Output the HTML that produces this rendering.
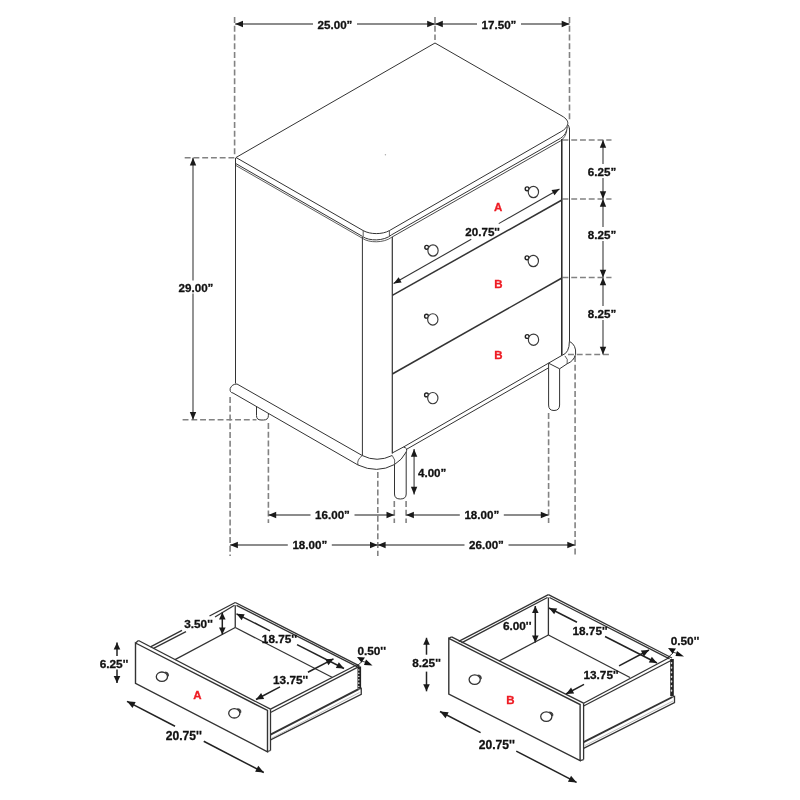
<!DOCTYPE html>
<html><head><meta charset="utf-8"><style>
html,body{margin:0;padding:0;background:#fff;}
svg{display:block;will-change:transform;}
text{font-family:"Liberation Sans",sans-serif;}
</style></head><body>
<svg width="800" height="800" viewBox="0 0 800 800" stroke-linecap="butt">
<rect width="800" height="800" fill="#fff"/>
<line x1="234.60" y1="17.00" x2="234.60" y2="157.00" stroke="#828282" stroke-width="1.6" stroke-dasharray="5.9,2.85"/>
<line x1="435.00" y1="17.00" x2="435.00" y2="40.00" stroke="#828282" stroke-width="1.6" stroke-dasharray="5.9,2.85"/>
<line x1="569.50" y1="17.00" x2="569.50" y2="122.00" stroke="#828282" stroke-width="1.6" stroke-dasharray="5.9,2.85"/>
<line x1="235.20" y1="24.00" x2="435.00" y2="24.00" stroke="#666" stroke-width="1.4" />
<polygon points="235.20,24.00 243.00,20.80 243.00,27.20" fill="#1a1a1a"/>
<polygon points="435.00,24.00 427.20,27.20 427.20,20.80" fill="#1a1a1a"/>
<line x1="435.00" y1="24.00" x2="569.50" y2="24.00" stroke="#666" stroke-width="1.4" />
<polygon points="435.00,24.00 442.80,20.80 442.80,27.20" fill="#1a1a1a"/>
<polygon points="569.50,24.00 561.70,27.20 561.70,20.80" fill="#1a1a1a"/>
<rect x="313.00" y="18.00" width="44" height="12" fill="#fff"/>
<text x="335.00" y="24.00" font-size="11.6" fill="#111" text-anchor="middle" dominant-baseline="central" font-weight="bold" stroke="#111" stroke-width="0.3">25.00&#8221;</text>
<rect x="477.00" y="18.00" width="44" height="12" fill="#fff"/>
<text x="499.00" y="24.00" font-size="11.6" fill="#111" text-anchor="middle" dominant-baseline="central" font-weight="bold" stroke="#111" stroke-width="0.3">17.50&#8221;</text>
<line x1="184.70" y1="157.70" x2="235.00" y2="157.70" stroke="#828282" stroke-width="1.6" stroke-dasharray="5.9,2.85"/>
<line x1="182.60" y1="419.80" x2="256.50" y2="419.80" stroke="#828282" stroke-width="1.6" stroke-dasharray="5.9,2.85"/>
<line x1="193.00" y1="157.80" x2="193.00" y2="419.80" stroke="#666" stroke-width="1.4" />
<polygon points="193.00,157.80 196.20,165.60 189.80,165.60" fill="#1a1a1a"/>
<polygon points="193.00,419.80 189.80,412.00 196.20,412.00" fill="#1a1a1a"/>
<rect x="176.00" y="280.50" width="40" height="13" fill="#fff"/>
<text x="196.00" y="287.00" font-size="11.6" fill="#111" text-anchor="middle" dominant-baseline="central" font-weight="bold" stroke="#111" stroke-width="0.3">29.00&#8221;</text>
<line x1="562.50" y1="140.00" x2="611.50" y2="140.00" stroke="#828282" stroke-width="1.6" stroke-dasharray="5.9,2.85"/>
<line x1="562.50" y1="199.00" x2="611.50" y2="199.00" stroke="#828282" stroke-width="1.6" stroke-dasharray="5.9,2.85"/>
<line x1="562.50" y1="277.50" x2="611.50" y2="277.50" stroke="#828282" stroke-width="1.6" stroke-dasharray="5.9,2.85"/>
<line x1="568.00" y1="354.50" x2="611.50" y2="354.50" stroke="#828282" stroke-width="1.6" stroke-dasharray="5.9,2.85"/>
<line x1="603.00" y1="140.00" x2="603.00" y2="199.00" stroke="#666" stroke-width="1.4" />
<polygon points="603.00,140.00 606.20,147.80 599.80,147.80" fill="#1a1a1a"/>
<polygon points="603.00,199.00 599.80,191.20 606.20,191.20" fill="#1a1a1a"/>
<line x1="603.00" y1="199.00" x2="603.00" y2="277.50" stroke="#666" stroke-width="1.4" />
<polygon points="603.00,199.00 606.20,206.80 599.80,206.80" fill="#1a1a1a"/>
<polygon points="603.00,277.50 599.80,269.70 606.20,269.70" fill="#1a1a1a"/>
<line x1="603.00" y1="277.50" x2="603.00" y2="354.50" stroke="#666" stroke-width="1.4" />
<polygon points="603.00,277.50 606.20,285.30 599.80,285.30" fill="#1a1a1a"/>
<polygon points="603.00,354.50 599.80,346.70 606.20,346.70" fill="#1a1a1a"/>
<rect x="584.00" y="164.00" width="36" height="14" fill="#fff"/>
<text x="602.00" y="171.00" font-size="11.6" fill="#111" text-anchor="middle" dominant-baseline="central" font-weight="bold" stroke="#111" stroke-width="0.3">6.25&#8221;</text>
<rect x="584.00" y="227.00" width="36" height="14" fill="#fff"/>
<text x="602.00" y="234.00" font-size="11.6" fill="#111" text-anchor="middle" dominant-baseline="central" font-weight="bold" stroke="#111" stroke-width="0.3">8.25&#8221;</text>
<rect x="584.00" y="306.00" width="36" height="14" fill="#fff"/>
<text x="602.00" y="313.00" font-size="11.6" fill="#111" text-anchor="middle" dominant-baseline="central" font-weight="bold" stroke="#111" stroke-width="0.3">8.25&#8221;</text>
<line x1="230.10" y1="397.00" x2="230.10" y2="556.00" stroke="#828282" stroke-width="1.6" stroke-dasharray="5.9,2.85"/>
<line x1="268.40" y1="423.00" x2="268.40" y2="523.00" stroke="#828282" stroke-width="1.6" stroke-dasharray="5.9,2.85"/>
<line x1="377.80" y1="472.00" x2="377.80" y2="556.00" stroke="#828282" stroke-width="1.6" stroke-dasharray="5.9,2.85"/>
<line x1="394.30" y1="501.00" x2="394.30" y2="523.00" stroke="#828282" stroke-width="1.6" stroke-dasharray="5.9,2.85"/>
<line x1="406.10" y1="501.00" x2="406.10" y2="523.00" stroke="#828282" stroke-width="1.6" stroke-dasharray="5.9,2.85"/>
<line x1="548.60" y1="413.00" x2="548.60" y2="523.00" stroke="#828282" stroke-width="1.6" stroke-dasharray="5.9,2.85"/>
<line x1="575.10" y1="356.00" x2="575.10" y2="556.00" stroke="#828282" stroke-width="1.6" stroke-dasharray="5.9,2.85"/>
<line x1="268.40" y1="515.00" x2="394.30" y2="515.00" stroke="#666" stroke-width="1.4" />
<polygon points="268.40,515.00 276.20,511.80 276.20,518.20" fill="#1a1a1a"/>
<polygon points="394.30,515.00 386.50,518.20 386.50,511.80" fill="#1a1a1a"/>
<line x1="406.10" y1="515.00" x2="548.60" y2="515.00" stroke="#666" stroke-width="1.4" />
<polygon points="406.10,515.00 413.90,511.80 413.90,518.20" fill="#1a1a1a"/>
<polygon points="548.60,515.00 540.80,518.20 540.80,511.80" fill="#1a1a1a"/>
<line x1="230.10" y1="545.00" x2="377.80" y2="545.00" stroke="#666" stroke-width="1.4" />
<polygon points="230.10,545.00 237.90,541.80 237.90,548.20" fill="#1a1a1a"/>
<polygon points="377.80,545.00 370.00,548.20 370.00,541.80" fill="#1a1a1a"/>
<line x1="377.80" y1="545.00" x2="575.10" y2="545.00" stroke="#666" stroke-width="1.4" />
<polygon points="377.80,545.00 385.60,541.80 385.60,548.20" fill="#1a1a1a"/>
<polygon points="575.10,545.00 567.30,548.20 567.30,541.80" fill="#1a1a1a"/>
<rect x="310.50" y="508.20" width="44" height="12" fill="#fff"/>
<text x="332.50" y="514.20" font-size="11.6" fill="#111" text-anchor="middle" dominant-baseline="central" font-weight="bold" stroke="#111" stroke-width="0.3">16.00&#8221;</text>
<rect x="459.80" y="508.20" width="44" height="12" fill="#fff"/>
<text x="481.80" y="514.20" font-size="11.6" fill="#111" text-anchor="middle" dominant-baseline="central" font-weight="bold" stroke="#111" stroke-width="0.3">18.00&#8221;</text>
<rect x="287.80" y="538.50" width="44" height="12" fill="#fff"/>
<text x="309.80" y="544.50" font-size="11.6" fill="#111" text-anchor="middle" dominant-baseline="central" font-weight="bold" stroke="#111" stroke-width="0.3">18.00&#8221;</text>
<rect x="464.50" y="538.50" width="44" height="12" fill="#fff"/>
<text x="486.50" y="544.50" font-size="11.6" fill="#111" text-anchor="middle" dominant-baseline="central" font-weight="bold" stroke="#111" stroke-width="0.3">26.00&#8221;</text>
<line x1="414.10" y1="449.00" x2="414.10" y2="494.50" stroke="#666" stroke-width="1.4" />
<polygon points="414.10,449.00 417.30,456.80 410.90,456.80" fill="#1a1a1a"/>
<polygon points="414.10,494.50 410.90,486.70 417.30,486.70" fill="#1a1a1a"/>
<text x="418.00" y="472.60" font-size="11.6" fill="#111" text-anchor="start" dominant-baseline="central" font-weight="bold" stroke="#111" stroke-width="0.3">4.00&#8221;</text>
<path d="M236,157.5 L435,43 L562,116 C566.5,118.6 568.5,121.5 567.6,124.5 C566.8,127.5 564.5,129.8 561.25,131.5 L389.4,230.6 C382.4,234.6 370.2,234.6 363.2,230.6 Z" stroke="#333" stroke-width="1.0" fill="none"/>
<line x1="235.50" y1="157.80" x2="235.50" y2="165.00" stroke="#333" stroke-width="1.0" />
<line x1="235.50" y1="163.40" x2="362.30" y2="236.30" stroke="#333" stroke-width="1.0" />
<line x1="235.50" y1="165.30" x2="362.30" y2="238.20" stroke="#333" stroke-width="0.8" />
<line x1="363.20" y1="230.60" x2="363.20" y2="236.30" stroke="#333" stroke-width="0.8" />
<line x1="389.40" y1="230.60" x2="389.40" y2="236.30" stroke="#333" stroke-width="0.8" />
<path d="M362.4,236.4 C369,241.3 384,241.3 391.6,234.8" stroke="#333" stroke-width="1.0" fill="none"/>
<path d="M362.4,238.3 C369,243.1 384,243.1 391.6,237.3" stroke="#333" stroke-width="0.8" fill="none"/>
<line x1="391.60" y1="234.80" x2="560.50" y2="138.30" stroke="#333" stroke-width="1.0" />
<line x1="391.60" y1="237.30" x2="560.50" y2="140.90" stroke="#333" stroke-width="0.9" />
<path d="M567.6,124.5 C569.6,126.5 569.6,129.5 569.5,133" stroke="#333" stroke-width="1.0" fill="none"/>
<path d="M567.4,126.5 C567,131.5 564.5,136 560.5,138.3" stroke="#333" stroke-width="0.9" fill="none"/>
<path d="M566.8,130.5 C566,135 564,138.5 560.5,140.9" stroke="#333" stroke-width="0.8" fill="none"/>
<line x1="235.50" y1="165.00" x2="235.50" y2="383.50" stroke="#333" stroke-width="1.0" />
<line x1="362.40" y1="237.00" x2="362.40" y2="455.50" stroke="#333" stroke-width="1.0" />
<line x1="392.30" y1="237.00" x2="392.30" y2="453.50" stroke="#333" stroke-width="1.2" />
<line x1="561.80" y1="139.00" x2="561.80" y2="355.30" stroke="#222" stroke-width="1.5" />
<line x1="569.50" y1="128.00" x2="569.50" y2="341.30" stroke="#333" stroke-width="1.0" />
<line x1="392.30" y1="295.40" x2="561.90" y2="200.00" stroke="#333" stroke-width="1.5" />
<line x1="392.30" y1="374.00" x2="561.90" y2="278.00" stroke="#333" stroke-width="1.5" />
<path d="M237,384 Q232,384 230.2,388.5 Q229.5,392.5 233,393 L358,465" stroke="#333" stroke-width="1.0" fill="none"/>
<line x1="237.00" y1="384.00" x2="362.20" y2="455.50" stroke="#333" stroke-width="1.0" />
<path d="M362.2,455.5 Q377,463 392.2,455.5" stroke="#333" stroke-width="1.0" fill="none"/>
<path d="M362.2,455.5 Q356.5,460 358,465" stroke="#333" stroke-width="0.8" fill="none"/>
<path d="M358,465 Q377,474 394.5,464.5" stroke="#333" stroke-width="1.0" fill="none"/>
<path d="M392.2,455.5 Q396,460 394.5,464.5" stroke="#333" stroke-width="0.8" fill="none"/>
<path d="M392.2,453 L403.5,447 Q408,448 406.2,452 Q402,460 394.5,464.5" stroke="#333" stroke-width="1.0" fill="none"/>
<line x1="403.50" y1="447.00" x2="562.10" y2="355.30" stroke="#333" stroke-width="1.0" />
<line x1="406.20" y1="449.50" x2="548.60" y2="367.80" stroke="#333" stroke-width="1.0" />
<path d="M562.1,355.3 Q569.4,353 569.4,341.3" stroke="#333" stroke-width="1.0" fill="none"/>
<path d="M569.4,341.3 Q576.5,345 575.6,354.2 Q574,361 567.1,363.8 L559.6,368.8" stroke="#333" stroke-width="1.0" fill="none"/>
<path d="M564.9,355.9 Q568.5,359 567.1,363.8" stroke="#333" stroke-width="0.8" fill="none"/>
<path d="M256.5,406.4 L256.5,415.5 Q256.5,420 261,420 L263.5,420 Q268.4,420 268.4,415.5 L268.4,413.3" stroke="#333" stroke-width="1.0" fill="none"/>
<path d="M394.5,464.5 L394.5,494 Q394.5,499 400.3,499 Q406.2,499 406.2,494 L406.2,452" stroke="#333" stroke-width="1.0" fill="none"/>
<path d="M548.6,363.2 L548.6,405 Q548.6,410.5 554,410.5 Q559.6,410.5 559.6,405 L559.6,368.8 Z" stroke="#333" stroke-width="1.0" fill="none"/>
<circle cx="527.1" cy="188.8" r="1.9" fill="#fff" stroke="#222" stroke-width="1.4"/>
<ellipse cx="533.4" cy="192" rx="5.15" ry="5.65" fill="#fff" stroke="#3a3a3a" stroke-width="1.15"/>
<circle cx="426.7" cy="247.3" r="1.9" fill="#fff" stroke="#222" stroke-width="1.4"/>
<ellipse cx="433" cy="250.5" rx="5.15" ry="5.65" fill="#fff" stroke="#3a3a3a" stroke-width="1.15"/>
<circle cx="527.0" cy="257.8" r="1.9" fill="#fff" stroke="#222" stroke-width="1.4"/>
<ellipse cx="533.3" cy="261" rx="5.15" ry="5.65" fill="#fff" stroke="#3a3a3a" stroke-width="1.15"/>
<circle cx="426.5" cy="316.2" r="1.9" fill="#fff" stroke="#222" stroke-width="1.4"/>
<ellipse cx="432.8" cy="319.4" rx="5.15" ry="5.65" fill="#fff" stroke="#3a3a3a" stroke-width="1.15"/>
<circle cx="527.2" cy="336.5" r="1.9" fill="#fff" stroke="#222" stroke-width="1.4"/>
<ellipse cx="533.5" cy="339.7" rx="5.15" ry="5.65" fill="#fff" stroke="#3a3a3a" stroke-width="1.15"/>
<circle cx="426.5" cy="394.90000000000003" r="1.9" fill="#fff" stroke="#222" stroke-width="1.4"/>
<ellipse cx="432.8" cy="398.1" rx="5.15" ry="5.65" fill="#fff" stroke="#3a3a3a" stroke-width="1.15"/>
<text x="498.20" y="206.60" font-size="11.5" fill="#ee1c24" text-anchor="middle" dominant-baseline="central" font-weight="bold" stroke="#ee1c24" stroke-width="0.3">A</text>
<text x="498.40" y="284.20" font-size="11.5" fill="#ee1c24" text-anchor="middle" dominant-baseline="central" font-weight="bold" stroke="#ee1c24" stroke-width="0.3">B</text>
<text x="498.40" y="355.20" font-size="11.5" fill="#ee1c24" text-anchor="middle" dominant-baseline="central" font-weight="bold" stroke="#ee1c24" stroke-width="0.3">B</text>
<circle cx="385.4" cy="154.8" r="0.7" fill="#aaa"/>
<line x1="393.60" y1="283.60" x2="471.25" y2="239.32" stroke="#333" stroke-width="1.1" />
<line x1="498.75" y1="223.64" x2="559.50" y2="189.00" stroke="#333" stroke-width="1.1" />
<polygon points="393.60,283.60 398.63,277.28 401.60,282.49" fill="#1a1a1a"/>
<polygon points="559.50,189.00 554.47,195.32 551.50,190.11" fill="#1a1a1a"/>
<text x="482.60" y="231.20" font-size="11.6" fill="#111" text-anchor="middle" dominant-baseline="central" font-weight="bold" stroke="#111" stroke-width="0.3">20.75''</text>
<path d="M135.5,643 L267.5,710.5 L267.5,751.8 L135.5,683.3 Z" stroke="#333" stroke-width="1.4000000000000001" fill="none"/>
<line x1="135.50" y1="643.00" x2="138.50" y2="640.50" stroke="#333" stroke-width="1.3" />
<line x1="138.50" y1="640.50" x2="270.50" y2="709.20" stroke="#333" stroke-width="1.3" />
<line x1="270.50" y1="709.20" x2="270.50" y2="750.50" stroke="#333" stroke-width="1.3" />
<line x1="267.50" y1="751.50" x2="270.50" y2="750.50" stroke="#333" stroke-width="1.3" />
<line x1="150.50" y1="646.80" x2="182.00" y2="630.30" stroke="#333" stroke-width="1.3" />
<line x1="209.50" y1="616.00" x2="235.25" y2="602.50" stroke="#333" stroke-width="1.3" />
<line x1="153.50" y1="648.40" x2="186.00" y2="631.60" stroke="#333" stroke-width="1.3" />
<line x1="215.00" y1="617.00" x2="234.50" y2="605.30" stroke="#333" stroke-width="1.3" />
<line x1="235.25" y1="602.50" x2="359.40" y2="665.80" stroke="#333" stroke-width="1.3" />
<line x1="236.50" y1="605.30" x2="357.50" y2="666.80" stroke="#333" stroke-width="1.3" />
<line x1="235.25" y1="605.30" x2="235.25" y2="627.50" stroke="#333" stroke-width="1.3" />
<line x1="235.25" y1="627.50" x2="175.00" y2="659.60" stroke="#333" stroke-width="1.3" />
<line x1="235.25" y1="627.50" x2="332.50" y2="677.50" stroke="#333" stroke-width="1.3" />
<line x1="270.50" y1="709.20" x2="357.50" y2="664.50" stroke="#333" stroke-width="1.3" />
<line x1="270.50" y1="712.50" x2="359.40" y2="666.40" stroke="#333" stroke-width="1.3" />
<rect x="357.50" y="666.50" width="3.6" height="21.90" fill="#222"/>
<ellipse cx="358.80" cy="669.95" rx="0.8" ry="0.82" fill="#ddd"/>
<ellipse cx="358.80" cy="673.25" rx="0.8" ry="0.82" fill="#ddd"/>
<ellipse cx="358.80" cy="676.55" rx="0.8" ry="0.82" fill="#ddd"/>
<ellipse cx="358.80" cy="679.85" rx="0.8" ry="0.82" fill="#ddd"/>
<ellipse cx="358.80" cy="683.15" rx="0.8" ry="0.82" fill="#ddd"/>
<ellipse cx="358.80" cy="686.45" rx="0.8" ry="0.82" fill="#ddd"/>
<line x1="270.50" y1="734.70" x2="358.60" y2="689.20" stroke="#333" stroke-width="1.9" />
<path d="M358.6,689.2 L361.25,688.3 L361.25,694.4 L270.5,739.8" stroke="#333" stroke-width="1.3" fill="none"/>
<line x1="272.00" y1="738.00" x2="359.50" y2="692.50" stroke="#aaa" stroke-width="0.8" />
<ellipse cx="161.9" cy="676.7" rx="5.6" ry="4.7" fill="none" stroke="#333" stroke-width="1.3"/>
<path d="M165.1,672.1 Q169.3,672.3000000000001 168.3,676.2 Q167.70000000000002,673.3000000000001 165.1,672.1 Z" fill="#333" stroke="#333" stroke-width="0.8"/>
<ellipse cx="234.3" cy="713.3" rx="5.6" ry="4.7" fill="none" stroke="#333" stroke-width="1.3"/>
<path d="M237.5,708.6999999999999 Q241.70000000000002,708.9 240.70000000000002,712.8 Q240.10000000000002,709.9 237.5,708.6999999999999 Z" fill="#333" stroke="#333" stroke-width="0.8"/>
<text x="197.50" y="695.00" font-size="11.5" fill="#ee1c24" text-anchor="middle" dominant-baseline="central" font-weight="bold" stroke="#ee1c24" stroke-width="0.3">A</text>
<line x1="117.00" y1="642.40" x2="117.00" y2="656.00" stroke="#222" stroke-width="1.5" />
<line x1="117.00" y1="669.60" x2="117.00" y2="683.00" stroke="#222" stroke-width="1.5" />
<polygon points="117.00,642.40 120.30,649.40 113.70,649.40" fill="#1a1a1a"/>
<polygon points="117.00,683.00 113.70,676.00 120.30,676.00" fill="#1a1a1a"/>
<text x="114.00" y="664.00" font-size="11.8" fill="#111" text-anchor="middle" dominant-baseline="central" font-weight="bold" stroke="#111" stroke-width="0.3">6.25''</text>
<line x1="222.30" y1="612.50" x2="222.30" y2="634.40" stroke="#222" stroke-width="1.5" />
<polygon points="222.30,612.50 225.60,619.50 219.00,619.50" fill="#1a1a1a"/>
<polygon points="222.30,634.40 219.00,627.40 225.60,627.40" fill="#1a1a1a"/>
<text x="198.50" y="624.00" font-size="11.8" fill="#111" text-anchor="middle" dominant-baseline="central" font-weight="bold" stroke="#111" stroke-width="0.3">3.50''</text>
<line x1="236.50" y1="613.80" x2="270.04" y2="630.87" stroke="#222" stroke-width="1.5" />
<line x1="297.02" y1="644.60" x2="344.00" y2="668.50" stroke="#222" stroke-width="1.5" />
<polygon points="236.50,613.80 244.68,614.26 241.69,620.14" fill="#1a1a1a"/>
<polygon points="344.00,668.50 335.82,668.04 338.81,662.16" fill="#1a1a1a"/>
<text x="279.40" y="639.30" font-size="11.8" fill="#111" text-anchor="middle" dominant-baseline="central" font-weight="bold" stroke="#111" stroke-width="0.3">18.75''</text>
<line x1="256.00" y1="699.50" x2="280.02" y2="686.88" stroke="#222" stroke-width="1.5" />
<line x1="307.93" y1="672.23" x2="333.50" y2="658.80" stroke="#222" stroke-width="1.5" />
<polygon points="256.00,699.50 261.11,693.09 264.17,698.93" fill="#1a1a1a"/>
<polygon points="333.50,658.80 328.39,665.21 325.33,659.37" fill="#1a1a1a"/>
<text x="290.60" y="680.20" font-size="11.8" fill="#111" text-anchor="middle" dominant-baseline="central" font-weight="bold" stroke="#111" stroke-width="0.3">13.75''</text>
<line x1="127.00" y1="701.30" x2="175.02" y2="726.29" stroke="#222" stroke-width="1.5" />
<line x1="203.74" y1="741.24" x2="263.80" y2="772.50" stroke="#222" stroke-width="1.5" />
<polygon points="127.00,701.30 135.67,701.98 132.53,708.01" fill="#1a1a1a"/>
<polygon points="263.80,772.50 255.13,771.82 258.27,765.79" fill="#1a1a1a"/>
<text x="183.80" y="736.30" font-size="12.100000000000001" fill="#111" text-anchor="middle" dominant-baseline="central" font-weight="bold" stroke="#111" stroke-width="0.3">20.75''</text>
<text x="371.70" y="650.60" font-size="11.8" fill="#111" text-anchor="middle" dominant-baseline="central" font-weight="bold" stroke="#111" stroke-width="0.3">0.50''</text>
<polygon points="357,657 365,657.5 361.5,662.5" fill="#111"/>
<polygon points="366,659.5 372.5,665.5 364,665" fill="#111"/>
<line x1="361.50" y1="661.00" x2="368.00" y2="663.00" stroke="#1a1a1a" stroke-width="0.8" />
<line x1="362.00" y1="661.50" x2="356.50" y2="666.50" stroke="#1a1a1a" stroke-width="0.9" />
<path d="M448.8,638.4 L580.1,704.5 L580.1,760.5 L448.8,694 Z" stroke="#333" stroke-width="1.4000000000000001" fill="none"/>
<line x1="448.80" y1="638.40" x2="451.60" y2="636.90" stroke="#333" stroke-width="1.3" />
<line x1="451.60" y1="636.90" x2="583.60" y2="703.20" stroke="#333" stroke-width="1.3" />
<line x1="583.60" y1="703.20" x2="583.60" y2="759.50" stroke="#333" stroke-width="1.3" />
<line x1="580.10" y1="760.50" x2="583.60" y2="759.50" stroke="#333" stroke-width="1.3" />
<line x1="458.75" y1="641.30" x2="548.40" y2="594.70" stroke="#333" stroke-width="1.3" />
<line x1="461.50" y1="642.80" x2="547.50" y2="597.50" stroke="#333" stroke-width="1.3" />
<line x1="548.40" y1="594.70" x2="672.00" y2="658.00" stroke="#333" stroke-width="1.3" />
<line x1="549.50" y1="597.50" x2="669.50" y2="658.80" stroke="#333" stroke-width="1.3" />
<line x1="548.40" y1="597.50" x2="548.40" y2="635.00" stroke="#333" stroke-width="1.3" />
<line x1="548.40" y1="635.00" x2="499.00" y2="661.00" stroke="#333" stroke-width="1.3" />
<line x1="548.40" y1="635.00" x2="630.00" y2="677.50" stroke="#333" stroke-width="1.3" />
<line x1="583.60" y1="703.20" x2="669.50" y2="657.50" stroke="#333" stroke-width="1.3" />
<line x1="583.60" y1="706.00" x2="672.00" y2="660.00" stroke="#333" stroke-width="1.3" />
<rect x="670.20" y="659.00" width="3.6" height="37.10" fill="#222"/>
<ellipse cx="671.50" cy="663.10" rx="0.8" ry="1.15" fill="#ddd"/>
<ellipse cx="671.50" cy="667.70" rx="0.8" ry="1.15" fill="#ddd"/>
<ellipse cx="671.50" cy="672.30" rx="0.8" ry="1.15" fill="#ddd"/>
<ellipse cx="671.50" cy="676.90" rx="0.8" ry="1.15" fill="#ddd"/>
<ellipse cx="671.50" cy="681.50" rx="0.8" ry="1.15" fill="#ddd"/>
<ellipse cx="671.50" cy="686.10" rx="0.8" ry="1.15" fill="#ddd"/>
<ellipse cx="671.50" cy="690.70" rx="0.8" ry="1.15" fill="#ddd"/>
<line x1="583.60" y1="742.10" x2="672.50" y2="697.00" stroke="#333" stroke-width="1.9" />
<path d="M672.5,697 L674.5,696.3 L674.5,702.5 L583.6,748.3" stroke="#333" stroke-width="1.3" fill="none"/>
<line x1="585.00" y1="745.50" x2="673.00" y2="701.00" stroke="#aaa" stroke-width="0.8" />
<ellipse cx="474.7" cy="679.6" rx="5.6" ry="4.7" fill="none" stroke="#333" stroke-width="1.3"/>
<path d="M477.9,675.0 Q482.09999999999997,675.2 481.09999999999997,679.1 Q480.5,676.2 477.9,675.0 Z" fill="#333" stroke="#333" stroke-width="0.8"/>
<ellipse cx="546.3" cy="716.6" rx="5.6" ry="4.7" fill="none" stroke="#333" stroke-width="1.3"/>
<path d="M549.5,712.0 Q553.6999999999999,712.2 552.6999999999999,716.1 Q552.0999999999999,713.2 549.5,712.0 Z" fill="#333" stroke="#333" stroke-width="0.8"/>
<text x="510.30" y="699.70" font-size="11.5" fill="#ee1c24" text-anchor="middle" dominant-baseline="central" font-weight="bold" stroke="#ee1c24" stroke-width="0.3">B</text>
<line x1="426.50" y1="637.80" x2="426.50" y2="654.71" stroke="#222" stroke-width="1.5" />
<line x1="426.50" y1="671.61" x2="426.50" y2="691.30" stroke="#222" stroke-width="1.5" />
<polygon points="426.50,637.80 429.80,644.80 423.20,644.80" fill="#1a1a1a"/>
<polygon points="426.50,691.30 423.20,684.30 429.80,684.30" fill="#1a1a1a"/>
<text x="426.50" y="663.00" font-size="11.8" fill="#111" text-anchor="middle" dominant-baseline="central" font-weight="bold" stroke="#111" stroke-width="0.3">8.25''</text>
<line x1="535.30" y1="606.00" x2="535.30" y2="642.50" stroke="#222" stroke-width="1.5" />
<polygon points="535.30,606.00 538.60,613.00 532.00,613.00" fill="#1a1a1a"/>
<polygon points="535.30,642.50 532.00,635.50 538.60,635.50" fill="#1a1a1a"/>
<text x="517.20" y="625.60" font-size="11.8" fill="#111" text-anchor="middle" dominant-baseline="central" font-weight="bold" stroke="#111" stroke-width="0.3">6.00''</text>
<line x1="549.00" y1="608.00" x2="576.97" y2="622.25" stroke="#222" stroke-width="1.5" />
<line x1="605.05" y1="636.54" x2="657.00" y2="663.00" stroke="#222" stroke-width="1.5" />
<polygon points="549.00,608.00 557.18,608.46 554.19,614.34" fill="#1a1a1a"/>
<polygon points="657.00,663.00 648.82,662.54 651.81,656.66" fill="#1a1a1a"/>
<text x="590.00" y="631.00" font-size="11.8" fill="#111" text-anchor="middle" dominant-baseline="central" font-weight="bold" stroke="#111" stroke-width="0.3">18.75''</text>
<line x1="566.00" y1="694.00" x2="584.01" y2="684.45" stroke="#222" stroke-width="1.5" />
<line x1="619.04" y1="665.88" x2="649.00" y2="650.00" stroke="#222" stroke-width="1.5" />
<polygon points="566.00,694.00 571.08,687.57 574.17,693.40" fill="#1a1a1a"/>
<polygon points="649.00,650.00 643.92,656.43 640.83,650.60" fill="#1a1a1a"/>
<text x="601.00" y="675.00" font-size="11.8" fill="#111" text-anchor="middle" dominant-baseline="central" font-weight="bold" stroke="#111" stroke-width="0.3">13.75''</text>
<line x1="440.00" y1="711.50" x2="480.57" y2="732.56" stroke="#222" stroke-width="1.5" />
<line x1="516.22" y1="751.06" x2="576.60" y2="782.40" stroke="#222" stroke-width="1.5" />
<polygon points="440.00,711.50 448.67,712.17 445.53,718.20" fill="#1a1a1a"/>
<polygon points="576.60,782.40 567.93,781.73 571.07,775.70" fill="#1a1a1a"/>
<text x="496.80" y="745.00" font-size="12.100000000000001" fill="#111" text-anchor="middle" dominant-baseline="central" font-weight="bold" stroke="#111" stroke-width="0.3">20.75''</text>
<text x="685.00" y="641.00" font-size="11.8" fill="#111" text-anchor="middle" dominant-baseline="central" font-weight="bold" stroke="#111" stroke-width="0.3">0.50''</text>
<polygon points="668,648 676,648.5 672.5,653.5" fill="#111"/>
<polygon points="677,651 684,656.5 675.5,656" fill="#111"/>
<line x1="672.50" y1="652.00" x2="679.00" y2="654.00" stroke="#1a1a1a" stroke-width="0.8" />
<line x1="673.50" y1="652.50" x2="667.00" y2="658.50" stroke="#1a1a1a" stroke-width="0.9" />
</svg>
</body></html>
